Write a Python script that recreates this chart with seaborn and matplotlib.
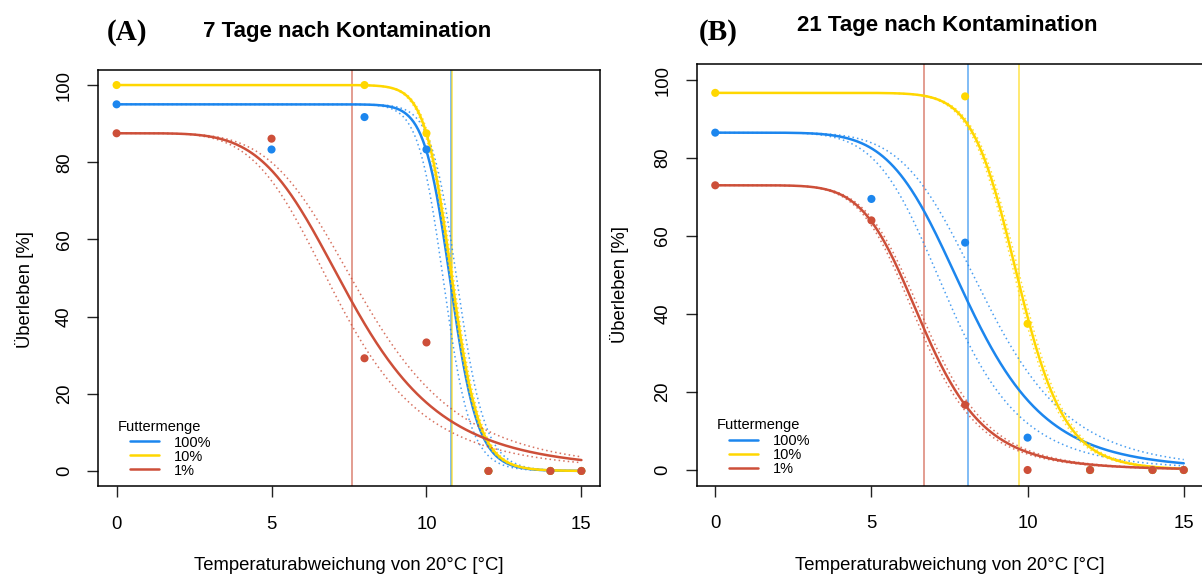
import numpy as np
import pandas as pd
import matplotlib
matplotlib.use("Agg")
import matplotlib.pyplot as plt
import seaborn as sns
from matplotlib.lines import Line2D

# ---------------- data ----------------
temp_dev = [0, 5, 8, 10, 12, 14, 15]
series_labels = ["100%", "10%", "1%"]
series_colors = ["#1C86EE", "#FFD700", "#CD4F39"]

# observed survival [%] (None = not measured)
surv_A_100 = [95.0, 83.3, 91.7, 83.3, 0, 0, 0]
surv_A_10 = [100.0, None, 100.0, 87.5, 0, 0, 0]
surv_A_1 = [87.5, 86.1, 29.2, 33.3, 0, 0, 0]
surv_B_100 = [86.5, 69.5, 58.3, 8.3, 0, 0, 0]
surv_B_10 = [96.7, None, 95.8, 37.5, 0, 0, 0]
surv_B_1 = [73.0, 64.0, 16.7, 0, 0, 0, 0]

# fitted log-logistic dose-response models: upper limit, ED50, slope, CI half-width of ED50
upper_A = [95.0, 100.0, 87.5]
ed50_A = [10.80, 10.82, 7.6]
slope_A = [25.0, 24.6, 5.0]
ci_A = [0.22, 0.05, 0.42]

upper_B = [86.5, 96.7, 73.0]
ed50_B = [8.08, 9.71, 6.67]
slope_B = [6.3, 13.0, 6.69]
ci_B = [0.6, 0.08, 0.12]

panel_letters = ["(A)", "(B)"]
panel_titles = ["7 Tage nach Kontamination", "21 Tage nach Kontamination"]
x_label = "Temperaturabweichung von 20°C [°C]"
y_label = "Überleben [%]"
legend_title = "Futtermenge"
x_ticks = [0, 5, 10, 15]
y_ticks = [0, 20, 40, 60, 80, 100]

# ---------------- style ----------------
sns.set_style("white")
plt.rcParams["font.family"] = ["Liberation Sans", "DejaVu Sans"]
plt.rcParams["text.color"] = "black"
plt.rcParams["axes.labelcolor"] = "black"
plt.rcParams["xtick.color"] = "black"
plt.rcParams["ytick.color"] = "black"

W, H = 1202, 578
fig = plt.figure(figsize=(W / 100, H / 100), dpi=100)


def ll3(x, d, e, b):
    return d / (1.0 + (x / e) ** b)


def draw_panel(ax, surv, upper, ed50, slope, ci):
    xg = np.linspace(0, 15, 400)
    for i in range(3):
        col = series_colors[i]
        for sgn in (-1, 1):
            yb = ll3(xg, upper[i], ed50[i] + sgn * ci[i], slope[i])
            sns.lineplot(x=xg, y=yb, color=col, lw=1.1, alpha=0.8,
                         linestyle=(0, (1, 2)), ax=ax, estimator=None)
        yc = ll3(xg, upper[i], ed50[i], slope[i])
        sns.lineplot(x=xg, y=yc, color=col, lw=1.8, ax=ax, estimator=None)
        df = pd.DataFrame({"x": temp_dev, "y": surv[i]}).dropna()
        sns.scatterplot(data=df, x="x", y="y", color=col, s=34,
                        edgecolor="none", ax=ax, zorder=4)
        ax.axvline(ed50[i], color=col, lw=1.2, alpha=0.65, zorder=1)

    ax.set_xlim(-0.6, 15.6)
    ax.set_ylim(-4, 104)
    ax.set_xticks(x_ticks)
    ax.set_yticks(y_ticks)
    ax.set_xticklabels([str(t) for t in x_ticks])
    ax.set_yticklabels([str(t) for t in y_ticks], rotation=90, va="center")
    ax.tick_params(axis="both", direction="out", length=8, width=1.0,
                   color="#222222", labelcolor="black", labelsize=13.3,
                   left=True, bottom=True)
    ax.tick_params(axis="x", pad=13)
    ax.tick_params(axis="y", pad=10)
    for sp in ax.spines.values():
        sp.set_visible(True)
        sp.set_color("black")
        sp.set_linewidth(1.1)
    ax.set_xlabel(x_label, fontsize=13.3, color="black")
    ax.set_ylabel(y_label, fontsize=13.3, color="black")

    handles = [Line2D([], [], color=c, lw=1.8) for c in series_colors]
    ax.legend(handles, series_labels, loc="upper left",
              bbox_to_anchor=(0.064, 0.122), frameon=False,
              fontsize=10.5, handlelength=2.0, handletextpad=1.0,
              labelspacing=0.0, borderpad=0, borderaxespad=0)


# panel A
axA = fig.add_axes([98 / W, (H - 486.4) / H, 502 / W, 416.8 / H])
draw_panel(axA, [surv_A_100, surv_A_10, surv_A_1], upper_A, ed50_A, slope_A, ci_A)
axA.xaxis.set_label_coords(0.5, -71 / 416.8)
axA.yaxis.set_label_coords(-74 / 502, 0.4736)
axA.yaxis.label.set_va("center")
axA.text(20 / 502, (486.4 - 427) / 416.8, legend_title, transform=axA.transAxes,
         fontsize=10.5, ha="left", va="center")

# panel B
axB = fig.add_axes([696.5 / W, (H - 485.6) / H, 506 / W, 421.2 / H])
draw_panel(axB, [surv_B_100, surv_B_10, surv_B_1], upper_B, ed50_B, slope_B, ci_B)
axB.xaxis.set_label_coords(0.5, -71 / 421.2)
axB.yaxis.set_label_coords(-77 / 506, 0.4786)
axB.yaxis.label.set_va("center")
axB.text(20.5 / 506, (485.6 - 425) / 421.2, legend_title, transform=axB.transAxes,
         fontsize=10.5, ha="left", va="center")

# titles
serif = ["Liberation Serif", "DejaVu Serif"]
fig.text(107 / W, 1 - 40 / H, panel_letters[0], fontsize=21, fontweight="bold",
         family=serif, ha="left", va="baseline")
fig.text(203 / W, 1 - 37.5 / H, panel_titles[0], fontsize=16, fontweight="bold",
         ha="left", va="baseline")
fig.text(699 / W, 1 - 40 / H, panel_letters[1], fontsize=21, fontweight="bold",
         family=serif, ha="left", va="baseline")
fig.text(797 / W, 1 - 30.6 / H, panel_titles[1], fontsize=16, fontweight="bold",
         ha="left", va="baseline")

fig.savefig("out.png", dpi=100)
